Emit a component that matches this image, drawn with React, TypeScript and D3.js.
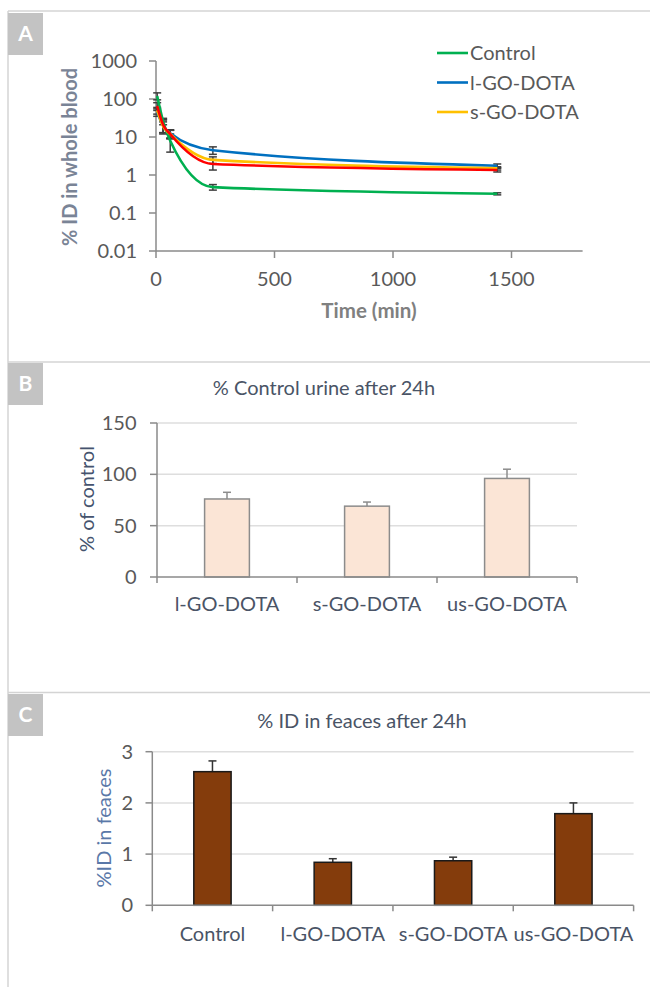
import React from "react";
import * as d3 from "d3";

// ---------- Panel A data ----------
const times = [5, 30, 60, 240, 1440];
const seriesNames = ["Control", "l-GO-DOTA", "s-GO-DOTA", "us-GO-DOTA"];
const controlVals = [120, 26, 8, 0.48, 0.32];
const lgoVals = [45, 20, 12.5, 4.5, 1.75];
const sgoVals = [50, 19, 12, 2.5, 1.5];
const usgoVals = [65, 21, 12, 1.95, 1.35];
const controlErr = [25, 5, 4, 0.08, 0.02];
const lgoErr = [10, 8, 3, 1, 0.2];
const sgoErr = [10, 6, 3, 0.5, 0.15];
const usgoErr = [15, 8, 3, 0.6, 0.15];
const seriesColors = ["#00b050", "#0070c0", "#ffc000", "#ff0000"];
const legendNames = ["Control", "l-GO-DOTA", "s-GO-DOTA"];
const logTicks = [1000, 100, 10, 1, 0.1, 0.01];
const timeTicks = [0, 500, 1000, 1500];

// ---------- Panel B data ----------
const urineCats = ["l-GO-DOTA", "s-GO-DOTA", "us-GO-DOTA"];
const urineVals = [76, 69, 96];
const urineErr = [6.5, 4, 9];
const urineTicks = [0, 50, 100, 150];

// ---------- Panel C data ----------
const fecesCats = ["Control", "l-GO-DOTA", "s-GO-DOTA", "us-GO-DOTA"];
const fecesVals = [2.61, 0.84, 0.87, 1.79];
const fecesErr = [0.21, 0.07, 0.07, 0.21];
const fecesTicks = [0, 1, 2, 3];

const FONT = "Lato, 'Open Sans', sans-serif";
const TICK = "#595959";
const AXIS = "#8a8a8a";
const GRID = "#dedede";
const FRAME = "#d4d4d4";
const FS = 20;

function PanelLabel({ y, letter }: { y: number; letter: string }) {
  return (
    <g>
      <rect x={8} y={y} width={35} height={42} fill="#c3c3c3" />
      <text x={25.5} y={y + 28} textAnchor="middle" fill="#ffffff" fontSize={21} fontWeight={700} fontFamily={FONT}>
        {letter}
      </text>
    </g>
  );
}

export default function App() {
  // Panel A scales
  const xA = d3.scaleLinear().domain([0, 1800]).range([156, 582.6]);
  const yA = d3.scaleLog().domain([0.01, 1000]).range([251, 61]);
  const allVals = [controlVals, lgoVals, sgoVals, usgoVals];
  const allErr = [controlErr, lgoErr, sgoErr, usgoErr];
  const line = d3
    .line<[number, number]>()
    .x((d) => xA(d[0]))
    .y((d) => yA(d[1]))
    .curve(d3.curveMonotoneX);
  const drawOrder = [0, 1, 2, 3];

  // Panel B scales
  const xB = d3.scaleBand<string>().domain(urineCats).range([157, 577]).paddingInner(0.68).paddingOuter(0.34);
  const yB = d3.scaleLinear().domain([0, 150]).range([577, 423]);
  const bandB = (577 - 157) / urineCats.length;

  // Panel C scales
  const xC = d3.scaleBand<string>().domain(fecesCats).range([152.3, 633.6]).paddingInner(0.69).paddingOuter(0.345);
  const yC = d3.scaleLinear().domain([0, 3]).range([905.3, 751.7]);
  const bandC = (633.6 - 152.3) / fecesCats.length;

  return (
    <svg width={650} height={987} style={{ position: "absolute", left: 0, top: 0, background: "#fff" }} fontFamily={FONT}>
      <rect x={0} y={0} width={650} height={987} fill="#fff" />
      {/* frame lines */}
      <line x1={8} x2={650} y1={11} y2={11} stroke={FRAME} strokeWidth={1.5} />
      <line x1={8} x2={650} y1={362} y2={362} stroke={FRAME} strokeWidth={1.5} />
      <line x1={8} x2={650} y1={692.5} y2={692.5} stroke={FRAME} strokeWidth={1.5} />
      <line x1={8} x2={8} y1={11} y2={987} stroke={FRAME} strokeWidth={1.5} />
      <PanelLabel y={13} letter="A" />
      <PanelLabel y={363} letter="B" />
      <PanelLabel y={694} letter="C" />

      {/* ---------- Panel A ---------- */}
      <g>
        <line x1={xA(0)} x2={xA(1800)} y1={yA(0.01)} y2={yA(0.01)} stroke={AXIS} strokeWidth={1.5} />
        <line x1={xA(0)} x2={xA(0)} y1={yA(0.01)} y2={yA(1000)} stroke={AXIS} strokeWidth={1.5} />
        {logTicks.map((t) => (
          <g key={"ly" + t}>
            <line x1={xA(0) - 7} x2={xA(0)} y1={yA(t)} y2={yA(t)} stroke={AXIS} strokeWidth={1.5} />
            <text x={137} y={yA(t)} dy="0.35em" textAnchor="end" fontSize={FS} fill={TICK}>
              {String(t)}
            </text>
          </g>
        ))}
        {timeTicks.map((t) => (
          <g key={"lx" + t}>
            <line x1={xA(t)} x2={xA(t)} y1={yA(0.01)} y2={yA(0.01) + 7} stroke={AXIS} strokeWidth={1.5} />
            <text x={xA(t)} y={279} dy="0.35em" textAnchor="middle" fontSize={FS} fill={TICK}>
              {String(t)}
            </text>
          </g>
        ))}
        <text x={369} y={311} dy="0.35em" textAnchor="middle" fontSize={20.5} fontWeight={700} fill="#808080">
          Time (min)
        </text>
        <text
          transform={`translate(70,157) rotate(-90)`}
          dy="0.35em"
          textAnchor="middle"
          fontSize={FS}
          fontWeight={700}
          fill="#7a8496"
        >
          % ID in whole blood
        </text>
        {/* error bars */}
        {drawOrder.map((si) => (
          <g key={"eb" + si}>
            {times.map((t, i) => {
              const v = allVals[si][i];
              const e = allErr[si][i];
              const x = xA(t);
              const y1 = yA(v + e);
              const y2 = yA(Math.max(v - e, 0.011));
              return (
                <g key={i} stroke="#3f3f3f" strokeWidth={1.5}>
                  <line x1={x} x2={x} y1={y1} y2={y2} />
                  <line x1={x - 4} x2={x + 4} y1={y1} y2={y1} />
                  <line x1={x - 4} x2={x + 4} y1={y2} y2={y2} />
                </g>
              );
            })}
          </g>
        ))}
        {drawOrder.map((si) => (
          <path
            key={"ln" + si}
            d={line(times.map((t, i) => [t, allVals[si][i]] as [number, number])) || ""}
            fill="none"
            stroke={seriesColors[si]}
            strokeWidth={2.6}
          />
        ))}
        {/* legend */}
        {legendNames.map((n, i) => (
          <g key={"lg" + n}>
            <line x1={437} x2={468} y1={53 + i * 29.5} y2={53 + i * 29.5} stroke={seriesColors[i]} strokeWidth={2.6} />
            <text x={470} y={53 + i * 29.5} dy="0.35em" fontSize={FS} fill={TICK}>
              {n}
            </text>
          </g>
        ))}
      </g>

      {/* ---------- Panel B ---------- */}
      <g>
        <text x={324} y={388} dy="0.35em" textAnchor="middle" fontSize={FS} fill="#4a5466">
          % Control urine after 24h
        </text>
        {urineTicks.map((t) => (
          <g key={"by" + t}>
            {t > 0 && <line x1={157} x2={577} y1={yB(t)} y2={yB(t)} stroke={GRID} strokeWidth={1.5} />}
            <line x1={150} x2={157} y1={yB(t)} y2={yB(t)} stroke={AXIS} strokeWidth={1.5} />
            <text x={136.5} y={yB(t)} dy="0.35em" textAnchor="end" fontSize={FS} fill={TICK}>
              {String(t)}
            </text>
          </g>
        ))}
        <line x1={157} x2={157} y1={yB(0)} y2={yB(150)} stroke={AXIS} strokeWidth={1.5} />
        {urineCats.map((c, i) => (
          <line key={"bt" + c} x1={157 + i * bandB} x2={157 + i * bandB} y1={yB(0)} y2={yB(0) + 6} stroke={AXIS} strokeWidth={1.5} />
        ))}
        <line x1={577} x2={577} y1={yB(0)} y2={yB(0) + 6} stroke={AXIS} strokeWidth={1.5} />
        {urineCats.map((c, i) => {
          const x = xB(c)!;
          const w = xB.bandwidth();
          const cx = x + w / 2;
          const top = yB(urineVals[i]);
          const et = yB(urineVals[i] + urineErr[i]);
          return (
            <g key={"bb" + c}>
              <line x1={cx} x2={cx} y1={top} y2={et} stroke="#8c8c8c" strokeWidth={1.5} />
              <line x1={cx - 4} x2={cx + 4} y1={et} y2={et} stroke="#8c8c8c" strokeWidth={1.5} />
              <rect x={x} y={top} width={w} height={yB(0) - top} fill="#fbe5d6" stroke="#8c8c8c" strokeWidth={1.5} />
              <text x={cx} y={604} dy="0.35em" textAnchor="middle" fontSize={FS} fill="#4a5466">
                {c}
              </text>
            </g>
          );
        })}
        <line x1={157} x2={577} y1={yB(0)} y2={yB(0)} stroke={AXIS} strokeWidth={1.5} />
        <text transform={`translate(87,499) rotate(-90)`} dy="0.35em" textAnchor="middle" fontSize={FS} fill="#45536e">
          % of control
        </text>
      </g>

      {/* ---------- Panel C ---------- */}
      <g>
        <text x={362} y={721} dy="0.35em" textAnchor="middle" fontSize={FS} fill="#4a5466">
          % ID in feaces after 24h
        </text>
        {fecesTicks.map((t) => (
          <g key={"cy" + t}>
            {t > 0 && <line x1={152.3} x2={633.6} y1={yC(t)} y2={yC(t)} stroke={GRID} strokeWidth={1.5} />}
            <line x1={145.5} x2={152.3} y1={yC(t)} y2={yC(t)} stroke={AXIS} strokeWidth={1.5} />
            <text x={133} y={yC(t)} dy="0.35em" textAnchor="end" fontSize={FS} fill={TICK}>
              {String(t)}
            </text>
          </g>
        ))}
        <line x1={152.3} x2={152.3} y1={yC(0)} y2={yC(3)} stroke={AXIS} strokeWidth={1.5} />
        {fecesCats.map((c, i) => (
          <line key={"ct" + c} x1={152.3 + i * bandC} x2={152.3 + i * bandC} y1={yC(0)} y2={yC(0) + 6} stroke={AXIS} strokeWidth={1.5} />
        ))}
        <line x1={633.6} x2={633.6} y1={yC(0)} y2={yC(0) + 6} stroke={AXIS} strokeWidth={1.5} />
        {fecesCats.map((c, i) => {
          const x = xC(c)!;
          const w = xC.bandwidth();
          const cx = x + w / 2;
          const top = yC(fecesVals[i]);
          const et = yC(fecesVals[i] + fecesErr[i]);
          return (
            <g key={"cb" + c}>
              <line x1={cx} x2={cx} y1={top} y2={et} stroke="#333" strokeWidth={1.5} />
              <line x1={cx - 4} x2={cx + 4} y1={et} y2={et} stroke="#333" strokeWidth={1.5} />
              <rect x={x} y={top} width={w} height={yC(0) - top} fill="#843c0c" stroke="#1a1a1a" strokeWidth={1.5} />
              <text x={cx} y={934} dy="0.35em" textAnchor="middle" fontSize={FS} fill="#4a5466">
                {c}
              </text>
            </g>
          );
        })}
        <line x1={152.3} x2={633.6} y1={yC(0)} y2={yC(0)} stroke={AXIS} strokeWidth={1.5} />
        <text transform={`translate(104,828) rotate(-90)`} dy="0.35em" textAnchor="middle" fontSize={FS} fill="#5a78a8">
          %ID in feaces
        </text>
      </g>
    </svg>
  );
}
